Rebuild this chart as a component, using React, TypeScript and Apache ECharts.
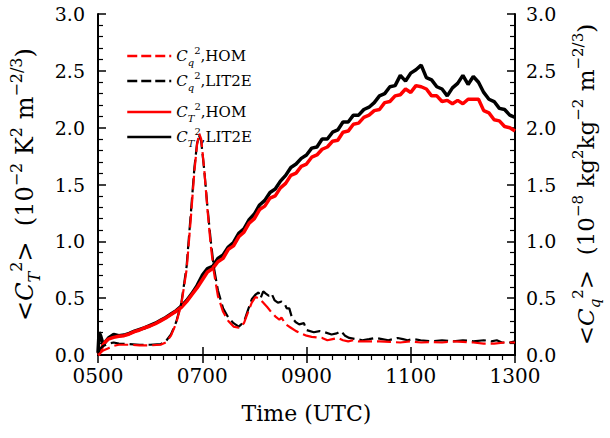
import React, { useEffect, useRef } from "react";
import * as echarts from "echarts";

// ---- Data (time in hours UTC, values in plotted units) ----
const timesSolid = [
  5.0, 5.02, 5.05, 5.1, 5.15, 5.2, 5.3, 5.4, 5.5, 5.6, 5.7, 5.8, 5.9, 6.0, 6.1, 6.2, 6.3, 6.4, 6.5, 6.6,
  6.7, 6.8, 6.9, 7.0, 7.1, 7.2, 7.3, 7.4, 7.5, 7.6, 7.7, 7.8, 7.9, 8.0, 8.1, 8.2, 8.3, 8.4, 8.5, 8.6,
  8.7, 8.8, 8.9, 9.0, 9.1, 9.2, 9.3, 9.4, 9.5, 9.6, 9.7, 9.8, 9.9, 10.0, 10.1, 10.2, 10.3, 10.4, 10.5,
  10.6, 10.7, 10.8, 10.9, 11.0, 11.1, 11.2, 11.3, 11.4, 11.5, 11.6, 11.7, 11.8, 11.9, 12.0, 12.1, 12.2,
  12.3, 12.4, 12.5, 12.6, 12.7, 12.8, 12.9, 13.0,
];
const ctLit2e = [
  0.02, 0.2, 0.17, 0.09, 0.12, 0.15, 0.18, 0.17, 0.175, 0.19, 0.21, 0.225, 0.24, 0.26, 0.28, 0.305, 0.33,
  0.36, 0.39, 0.43, 0.48, 0.54, 0.61, 0.7, 0.76, 0.78, 0.85, 0.88, 0.95, 0.99, 1.07, 1.11, 1.19, 1.24,
  1.32, 1.36, 1.43, 1.46, 1.53, 1.58, 1.65, 1.68, 1.73, 1.76, 1.82, 1.83, 1.9, 1.9, 1.96, 1.98, 2.05,
  2.05, 2.11, 2.11, 2.16, 2.18, 2.22, 2.28, 2.3, 2.36, 2.37, 2.46, 2.41, 2.48, 2.51, 2.55, 2.44, 2.42,
  2.36, 2.34, 2.28, 2.35, 2.39, 2.46, 2.38, 2.45, 2.4, 2.31, 2.25, 2.23, 2.17, 2.16, 2.11, 2.09,
];
const ctHom = [
  0.0, 0.01, 0.04, 0.09, 0.12, 0.14, 0.155, 0.165, 0.17, 0.185, 0.205, 0.22, 0.24, 0.255, 0.275, 0.3,
  0.325, 0.355, 0.385, 0.42, 0.47, 0.53, 0.59, 0.66, 0.73, 0.76, 0.82, 0.85, 0.93, 0.96, 1.04, 1.08, 1.16,
  1.2, 1.28, 1.31, 1.38, 1.4, 1.47, 1.51, 1.58, 1.6, 1.66, 1.68, 1.74, 1.76, 1.81, 1.83, 1.88, 1.89,
  1.96, 1.97, 2.03, 2.04, 2.09, 2.11, 2.15, 2.16, 2.22, 2.23, 2.28, 2.29, 2.34, 2.31, 2.37, 2.36, 2.34,
  2.28, 2.28, 2.23, 2.24, 2.21, 2.24, 2.21, 2.25, 2.25, 2.25, 2.15, 2.13, 2.07, 2.06, 2.01, 2.0, 1.97,
];

const timesCqHom = [
  5.0, 5.05, 5.1, 5.2, 5.3, 5.4, 5.6, 5.8, 6.0, 6.2, 6.3, 6.4, 6.5, 6.6, 6.7, 6.78, 6.85, 6.9, 6.94,
  6.98, 7.04, 7.1, 7.16, 7.22, 7.3, 7.4, 7.5, 7.6, 7.7, 7.8, 7.88, 7.95, 8.02, 8.08, 8.15, 8.25, 8.32,
  8.4, 8.48, 8.52, 8.6, 8.7, 8.8, 8.9, 9.0, 9.1, 9.2, 9.3, 9.4, 9.5, 9.6, 9.7, 9.8, 9.9, 10.0, 10.2,
  10.4, 10.6, 10.8, 11.0, 11.2, 11.4, 11.6, 11.8, 12.0, 12.2, 12.4, 12.6, 12.8, 13.0,
];
const cqHom = [
  0.0, 0.02, 0.04, 0.06, 0.08, 0.09, 0.09, 0.085, 0.085, 0.09, 0.11, 0.17, 0.28, 0.45, 0.75, 1.2, 1.62,
  1.85, 1.95, 1.9, 1.62, 1.28, 0.98, 0.74, 0.52, 0.38, 0.3, 0.25, 0.24, 0.28, 0.38, 0.46, 0.51, 0.5, 0.47,
  0.42, 0.38, 0.34, 0.31, 0.33, 0.27, 0.24, 0.21, 0.19, 0.17, 0.16, 0.155, 0.15, 0.13, 0.14, 0.15, 0.13,
  0.12, 0.13, 0.12, 0.12, 0.12, 0.115, 0.11, 0.12, 0.11, 0.115, 0.11, 0.12, 0.115, 0.11, 0.1, 0.1, 0.11,
  0.11,
];

const timesCqLit2e = [
  5.0, 5.03, 5.1, 5.2, 5.3, 5.4, 5.6, 5.8, 6.0, 6.2, 6.3, 6.4, 6.5, 6.6, 6.7, 6.78, 6.85, 6.9, 6.94,
  6.98, 7.04, 7.1, 7.16, 7.22, 7.3, 7.4, 7.5, 7.6, 7.7, 7.8, 7.88, 7.95, 8.02, 8.08, 8.12, 8.17, 8.22,
  8.28, 8.33, 8.39, 8.45, 8.52, 8.58, 8.62, 8.67, 8.72, 8.79, 8.86, 8.95, 9.0, 9.14, 9.25, 9.35, 9.48,
  9.58, 9.66, 9.74, 9.82, 9.95, 10.07, 10.2, 10.32, 10.45, 10.57, 10.66, 10.75, 10.85, 10.94, 11.05,
  11.19, 11.38, 11.6, 11.8, 12.0, 12.2, 12.4, 12.55, 12.65, 12.75, 12.9, 13.0,
];
const cqLit2e = [
  0.0, 0.05, 0.08, 0.1, 0.11, 0.1, 0.095, 0.09, 0.09, 0.095, 0.12, 0.18, 0.29, 0.46, 0.78, 1.24, 1.65,
  1.86, 1.93, 1.88, 1.62, 1.3, 1.02, 0.78, 0.57, 0.41, 0.33, 0.28, 0.25, 0.29, 0.4, 0.49, 0.53, 0.55,
  0.5, 0.56, 0.54, 0.52, 0.54, 0.48, 0.46, 0.47, 0.45, 0.41, 0.41, 0.33, 0.29, 0.27, 0.28, 0.22, 0.2, 0.21,
  0.2, 0.18, 0.19, 0.21, 0.17, 0.15, 0.14, 0.13, 0.14, 0.15, 0.14, 0.13, 0.14, 0.15, 0.14, 0.13, 0.14,
  0.13, 0.12, 0.13, 0.12, 0.13, 0.12, 0.13, 0.12, 0.13, 0.11, 0.11, 0.12,
];

const xTicks = [5, 7, 9, 11, 13];
const seriesNames = ["Cq2,HOM", "Cq2,LIT2E", "CT2,HOM", "CT2,LIT2E"];
const legendLabels: Record<string, string> = {
  "Cq2,HOM": "{i|C}{sub|q}{sup|2}{n|,HOM}",
  "Cq2,LIT2E": "{i|C}{sub|q}{sup|2}{n|,LIT2E}",
  "CT2,HOM": "{i|C}{sub|T}{sup|2}{n|,HOM}",
  "CT2,LIT2E": "{i|C}{sub|T}{sup|2}{n|,LIT2E}",
};

const FONT = "DejaVu Serif";
const zip = (t: number[], v: number[]) => t.map((x, i) => [x, v[i]]);

const makeRich = (main: number, small: number, lh: number) => ({
  n: { fontSize: main, fontFamily: FONT, color: "#000", lineHeight: lh, verticalAlign: "middle" },
  i: { fontSize: main, fontFamily: FONT, fontStyle: "italic", color: "#000", lineHeight: lh, verticalAlign: "middle" },
  sup: { fontSize: small, fontFamily: FONT, color: "#000", lineHeight: lh, verticalAlign: "top" },
  sub: { fontSize: small, fontFamily: FONT, fontStyle: "italic", color: "#000", lineHeight: lh, verticalAlign: "bottom" },
});
const leftNameRich = makeRich(24, 16, 34);
const rightNameRich = makeRich(23, 15, 32);
const legendRich = makeRich(15, 10, 22);

export default function App() {
  const ref = useRef<HTMLDivElement>(null);
  useEffect(() => {
    if (!ref.current) return;
    const chart = echarts.init(ref.current, undefined, { renderer: "svg" });
    const axisLine = { show: true, lineStyle: { color: "#000", width: 2 } };
    const axisTick = { show: true, inside: true, length: 8, lineStyle: { color: "#000", width: 1.5 } };
    const minorTickY = { show: true, splitNumber: 5, length: 5, lineStyle: { color: "#000", width: 1.2 } };
    const yCommon = {
      type: "value",
      min: 0,
      max: 3,
      interval: 0.5,
      axisLine,
      axisTick,
      minorTick: minorTickY,
      splitLine: { show: false },
      minorSplitLine: { show: false },
      nameLocation: "middle",
      nameRotate: 90,
      axisLabel: {
        fontSize: 19,
        fontFamily: FONT,
        color: "#000",
        formatter: (v: number) => v.toFixed(1),
      },
    };
    const legendItem = (name: string, color: string, dashed: boolean) => ({
      name,
      itemStyle: { opacity: 0 },
      lineStyle: { color, width: 2.5, type: dashed ? [10, 4] : "solid", opacity: 1 },
    });
    const legendCommon = {
      orient: "vertical",
      left: 121,
      itemWidth: 44,
      itemHeight: 12,
      itemGap: 3,
      selectedMode: false,
      formatter: (name: string) => legendLabels[name],
      textStyle: { rich: legendRich },
    };
    chart.setOption({
      animation: false,
      backgroundColor: "#fff",
      grid: { left: 95, right: 86, top: 14, bottom: 83, containLabel: false },
      legend: [
        {
          ...legendCommon,
          top: 40,
          data: [legendItem(seriesNames[0], "#ff0000", true), legendItem(seriesNames[1], "#000", true)],
        },
        {
          ...legendCommon,
          top: 96,
          data: [legendItem(seriesNames[2], "#ff0000", false), legendItem(seriesNames[3], "#000", false)],
        },
      ],
      xAxis: [
        {
          type: "value",
          position: "bottom",
          min: xTicks[0],
          max: xTicks[xTicks.length - 1],
          interval: 2,
          axisLine,
          axisTick,
          splitLine: { show: false },
          axisLabel: {
            fontSize: 20,
            fontFamily: FONT,
            color: "#000",
            margin: 11,
            formatter: (v: number) => String(Math.round(v * 100)).padStart(4, "0"),
          },
          name: "Time (UTC)",
          nameLocation: "middle",
          nameGap: 47,
          nameTextStyle: { fontSize: 22, fontFamily: FONT, color: "#000" },
        },
        {
          type: "value",
          position: "top",
          min: xTicks[0],
          max: xTicks[xTicks.length - 1],
          interval: 2,
          axisLine,
          axisTick,
          minorTick: { show: true, splitNumber: 8, length: 5, lineStyle: { color: "#000", width: 1.2 } },
          splitLine: { show: false },
          minorSplitLine: { show: false },
          axisLabel: { show: false },
        },
      ],
      yAxis: [
        {
          ...yCommon,
          position: "left",
          axisLabel: { ...yCommon.axisLabel, margin: 13 },
          name: "<{i|C}{sub|T}{sup|2}{n|>  (10}{sup|−2}{n| K}{sup|2}{n| m}{sup|−2/3}{n|)}",
          nameGap: 56,
          nameTextStyle: { rich: leftNameRich, fontSize: 24, fontFamily: FONT, color: "#000" },
        },
        {
          ...yCommon,
          position: "right",
          axisLabel: { ...yCommon.axisLabel, margin: 11 },
          name: "<{i|C}{sub|q}{sup|2}{n|>  (10}{sup|−8}{n| kg}{sup|2}{n|kg}{sup|−2}{n| m}{sup|−2/3}{n|)}",
          nameGap: 55,
          nameTextStyle: { rich: rightNameRich, fontSize: 23, fontFamily: FONT, color: "#000" },
        },
      ],
      series: [
        {
          name: seriesNames[3],
          type: "line",
          xAxisIndex: 0,
          yAxisIndex: 0,
          data: zip(timesSolid, ctLit2e),
          symbol: "none",
          lineStyle: { color: "#000", width: 3.5 },
          itemStyle: { color: "#000" },
          z: 2,
        },
        {
          name: seriesNames[2],
          type: "line",
          xAxisIndex: 0,
          yAxisIndex: 0,
          data: zip(timesSolid, ctHom),
          symbol: "none",
          lineStyle: { color: "#ff0000", width: 3.5 },
          itemStyle: { color: "#ff0000" },
          z: 3,
        },
        {
          name: seriesNames[1],
          type: "line",
          xAxisIndex: 0,
          yAxisIndex: 1,
          data: zip(timesCqLit2e, cqLit2e),
          symbol: "none",
          lineStyle: { color: "#000", width: 2.2, type: [14, 5] },
          itemStyle: { color: "#000" },
          z: 4,
        },
        {
          name: seriesNames[0],
          type: "line",
          xAxisIndex: 0,
          yAxisIndex: 1,
          data: zip(timesCqHom, cqHom),
          symbol: "none",
          lineStyle: { color: "#ff0000", width: 2.2, type: [14, 5] },
          itemStyle: { color: "#ff0000" },
          z: 5,
        },
      ],
    });
    return () => chart.dispose();
  }, []);
  return <div ref={ref} style={{ width: 610, height: 438, position: "absolute", left: 0, top: 0 }} />;
}
